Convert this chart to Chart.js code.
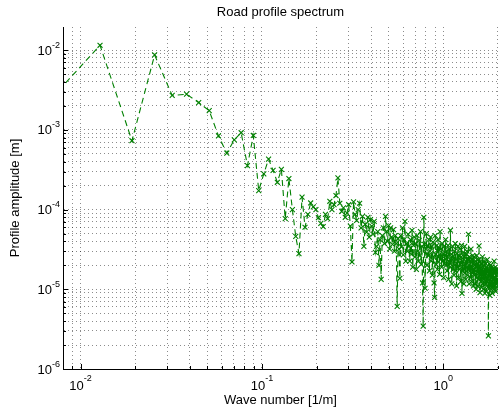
<!DOCTYPE html>
<html>
<head>
<meta charset="utf-8">
<script src="https://cdn.jsdelivr.net/npm/chart.js@4.4.0/dist/chart.umd.min.js"></script>
<style>
  html, body { margin: 0; padding: 0; background: #fff; }
  canvas { display: block; }
</style>
</head>
<body>
<canvas id="spectrum" width="503" height="412"></canvas>
<script>
const chartTitle = 'Road profile spectrum';
const xTitle = 'Wave number [1/m]';
const yTitle = 'Profile amplitude [m]';

// spectral lines are spaced evenly in wave number
const waveStep = 0.0064;
const xRange = [0.008, 2];
const yRange = [1e-6, 0.0195];
const xDecades = [-2, -1, 0];
const yDecades = [-6, -5, -4, -3, -2];

// amplitude [m] of line k = 1, 2, 3 ...
const amplitude = [
  2.05e-3, 1.15e-2, 7.3e-4, 8.7e-3, 2.7e-3, 2.8e-3, 2.2e-3, 1.74e-3, 8.4e-4, 5.1e-4,
  7.5e-4, 9.2e-4, 3.55e-4, 8.5e-4, 1.73e-4, 2.8e-4, 4.3e-4, 3.1e-4, 2.2e-4, 3.2e-4,
  7.7e-5, 2.45e-4, 1.0e-4, 4.6e-5, 2.8e-5, 1.43e-4, 6.0e-5, 8.7e-5, 1.21e-4, 1.08e-4,
  1.0e-4, 7.9e-5, 6.7e-5, 6.1e-5, 8.7e-5, 7.7e-5, 1.27e-4, 1.0e-4, 1.15e-4, 1.5e-4,
  2.5e-4, 1.2e-4, 9.5e-5, 1.05e-4, 8.0e-5, 9.0e-5, 1.15e-4, 6.2e-5, 2.2e-5, 1.25e-4,
  8.7e-5, 7.3e-5, 1.0e-4, 1.2e-4, 5.9e-5, 8.2e-5, 3.45e-5, 6.5e-5, 5.2e-5, 8.0e-5,
  4.5e-5, 7.5e-5, 6.2e-5, 4.9e-5, 7.1e-5, 2.9e-5, 3.45e-5, 5.3e-5, 2.0e-5, 4.2e-5,
  1.33e-5, 4.7e-5, 5.9e-5, 3.75e-5, 8.2e-5, 5.3e-5, 4.0e-5, 6.3e-5, 3.2e-5, 5.9e-5,
  4.5e-5, 3.65e-5, 5.6e-5, 3.0e-5, 4.7e-5, 3.75e-5, 6.1e-6, 4.3e-5, 3.2e-5, 1.37e-5,
  4.7e-5, 3.4e-5, 5.9e-5, 2.7e-5, 4.2e-5, 7.1e-5, 2.25e-5, 3.75e-5, 3.0e-5, 4.9e-5,
  3.45e-5, 2.25e-5, 4.2e-5, 2.75e-5, 5.5e-5, 1.9e-5, 3.55e-5, 4.5e-5, 2.55e-5, 3.75e-5,
  1.78e-5, 4.7e-5, 3.0e-5, 2.25e-5, 4.1e-5, 2.65e-5, 5.3e-5, 2.05e-5, 3.45e-5, 1.2e-5,
  3.45e-6, 8.0e-5, 3.65e-5, 1.03e-5, 3.2e-5, 5.0e-5, 2.0e-5, 3.55e-5, 2.65e-5, 4.2e-5,
  1.7e-5, 3.0e-5, 4.5e-5, 2.25e-5, 3.45e-5, 1.5e-5, 3.9e-5, 2.55e-5, 1.2e-5, 7.9e-6,
  4.7e-5, 2.75e-5, 2.05e-5, 3.55e-5, 1.78e-5, 4.2e-5, 2.55e-5, 3.3e-5, 1.54e-5, 5.3e-5,
  2.35e-5, 3.2e-5, 1.9e-5, 3.75e-5, 2.25e-5, 2.8e-5, 1.4e-5, 3.45e-5, 2.1e-5, 2.65e-5,
  4.2e-5, 2.0e-5, 3.0e-5, 1.7e-5, 2.55e-5, 3.55e-5, 1.33e-5, 2.25e-5, 3.2e-5, 1.9e-5,
  5.5e-5, 2.1e-5, 2.75e-5, 1.17e-5, 2.35e-5, 3.45e-5, 1.78e-5, 2.6e-5, 1.5e-5, 3.0e-5,
  2.0e-5, 3.75e-5, 1.7e-5, 2.35e-5, 1.1e-5, 2.8e-5, 1.9e-5, 3.45e-5, 2.25e-5, 1.4e-5,
  2.65e-5, 1.78e-5, 3.2e-5, 2.05e-5, 1.25e-5, 2.55e-5, 3.55e-5, 8.9e-6, 2.25e-5, 1.7e-5,
  2.9e-5, 2.0e-5, 1.17e-5, 2.55e-5, 3.45e-5, 1.6e-5, 2.25e-5, 1.33e-5, 2.75e-5, 1.9e-5,
  3.0e-5, 1.5e-5, 2.35e-5, 1.78e-5, 4.9e-5, 2.0e-5, 1.17e-5, 2.55e-5, 1.7e-5, 2.25e-5,
  1.4e-5, 3.2e-5, 1.9e-5, 1.25e-5, 2.35e-5, 1.6e-5, 2.65e-5, 1.78e-5, 1.1e-5, 2.1e-5,
  2.55e-5, 1.5e-5, 2.0e-5, 1.17e-5, 2.25e-5, 1.7e-5, 1.0e-5, 1.9e-5, 2.65e-5, 1.4e-5,
  2.1e-5, 1.1e-5, 1.78e-5, 2.35e-5, 1.33e-5, 3.5e-5, 1.6e-5, 2.0e-5, 9.1e-6, 1.5e-5,
  2.25e-5, 1.25e-5, 1.78e-5, 1.06e-5, 2.05e-5, 1.4e-5, 2.55e-5, 1.17e-5, 1.7e-5, 1.0e-5,
  2.0e-5, 1.33e-5, 2.25e-5, 1.5e-5, 8.9e-6, 1.78e-5, 1.17e-5, 2.1e-5, 1.4e-5, 9.4e-6,
  1.9e-5, 1.25e-5, 2.35e-5, 1.5e-5, 1.06e-5, 1.7e-5, 2.6e-6, 1.78e-5, 1.17e-5, 2.1e-5,
  1.33e-5, 8.4e-6, 1.7e-5, 1.1e-5, 2.0e-5, 1.4e-5, 1.0e-5, 1.78e-5, 1.25e-5, 1.9e-5,
  8.9e-6, 1.5e-5, 1.1e-5, 1.78e-5, 1.33e-5, 1.7e-5, 1.0e-5, 2.25e-5, 1.4e-5, 1.1e-5,
  1.7e-5, 1.25e-5, 1.9e-5, 9.4e-6, 1.5e-5, 1.17e-5, 1.78e-5, 1.33e-5, 1.06e-5, 1.6e-5,
  1.25e-5, 1.78e-5
];

const points = amplitude.map((a, i) => ({ x: (i + 1) * waveStep, y: a }));

const fontFamily = '"Liberation Sans", Arial, Helvetica, sans-serif';

// every 1..9 x 10^n inside the range, like a matlab minor grid
function logTicks(min, max) {
  let out = [];
  for (let e = Math.floor(Math.log10(min)); e <= Math.ceil(Math.log10(max)); e++) {
    for (let m = 1; m < 10; m++) {
      const v = m * Math.pow(10, e);
      if (v >= min * 0.999 && v <= max * 1.001) out.push({ value: v, major: m === 1 });
    }
  }
  return out;
}

const gridLook = { color: 'rgba(0,0,0,0.45)', lineWidth: 1, drawTicks: false };
const borderLook = { display: true, color: '#000', width: 1, dash: [1, 3] };

// titles, decade labels with superscripts and the small inner ticks
const axisText = {
  id: 'axisText',
  afterDraw(chart) {
    const { ctx, chartArea: a, scales: { x, y } } = chart;
    ctx.save();
    ctx.strokeStyle = '#000';
    ctx.lineWidth = 1;
    ctx.beginPath();
    x.ticks.forEach(t => {
      const px = Math.round(x.getPixelForValue(t.value)) + 0.5;
      ctx.moveTo(px, a.bottom);
      ctx.lineTo(px, a.bottom - (t.major ? 5 : 3));
    });
    y.ticks.forEach(t => {
      const py = Math.round(y.getPixelForValue(t.value)) + 0.5;
      ctx.moveTo(a.left, py);
      ctx.lineTo(a.left + (t.major ? 5 : 3), py);
    });
    ctx.stroke();

    ctx.fillStyle = '#000';
    ctx.textBaseline = 'alphabetic';
    const bigFont = '13px ' + fontFamily;
    const smallFont = '9px ' + fontFamily;

    xDecades.forEach(e => {
      const px = x.getPixelForValue(Math.pow(10, e));
      const sup = String(e);
      ctx.font = bigFont;
      const wb = ctx.measureText('10').width;
      ctx.font = smallFont;
      const ws = ctx.measureText(sup).width;
      const start = px - (wb + ws) / 2;
      ctx.textAlign = 'left';
      ctx.font = bigFont;
      ctx.fillText('10', start, 390);
      ctx.font = smallFont;
      ctx.fillText(sup, start + wb, 381);
    });

    yDecades.forEach(e => {
      const py = y.getPixelForValue(Math.pow(10, e));
      const sup = String(e);
      ctx.font = smallFont;
      const ws = ctx.measureText(sup).width;
      ctx.textAlign = 'right';
      ctx.fillText(sup, 60, py - 2.5);
      ctx.font = bigFont;
      ctx.fillText('10', 60 - ws, py + 4.5);
    });

    const midX = (a.left + a.right) / 2;
    ctx.textAlign = 'center';
    ctx.font = bigFont;
    ctx.fillText(chartTitle, midX, 16);
    ctx.fillText(xTitle, midX, 404);

    ctx.translate(15, (a.top + a.bottom) / 2);
    ctx.rotate(-Math.PI / 2);
    ctx.textBaseline = 'middle';
    ctx.fillText(yTitle, 0, 0);
    ctx.restore();
  }
};

new Chart(document.getElementById('spectrum'), {
  type: 'line',
  data: {
    datasets: [{
      data: points,
      borderColor: '#008000',
      borderWidth: 1.1,
      borderDash: [6, 4],
      pointStyle: 'crossRot',
      pointRadius: 3.5,
      pointBorderColor: '#008000',
      pointBorderWidth: 1.1,
      pointBackgroundColor: '#008000',
      tension: 0,
      fill: false
    }]
  },
  options: {
    responsive: false,
    animation: false,
    devicePixelRatio: 1,
    layout: { padding: { top: 27, right: 5, left: 0, bottom: 0 } },
    plugins: {
      legend: { display: false },
      tooltip: { enabled: false }
    },
    scales: {
      x: {
        type: 'logarithmic',
        min: xRange[0],
        max: xRange[1],
        afterBuildTicks: s => { s.ticks = logTicks(xRange[0], xRange[1]); },
        afterFit: s => { s.height = 43; },
        ticks: { display: false },
        grid: gridLook,
        border: borderLook
      },
      y: {
        type: 'logarithmic',
        min: yRange[0],
        max: yRange[1],
        afterBuildTicks: s => { s.ticks = logTicks(yRange[0], yRange[1]); },
        afterFit: s => { s.width = 63; },
        ticks: { display: false },
        grid: gridLook,
        border: borderLook
      }
    }
  },
  plugins: [axisText]
});
</script>
</body>
</html>
